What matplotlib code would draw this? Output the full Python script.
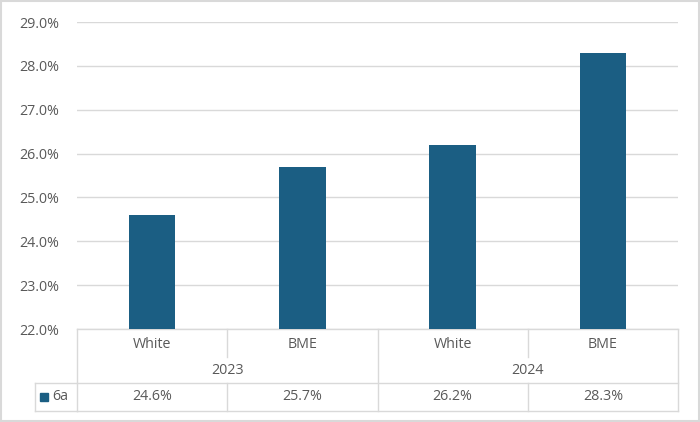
import matplotlib.pyplot as plt
from matplotlib.patches import Rectangle
from matplotlib.transforms import blended_transform_factory
from matplotlib.ticker import FuncFormatter

plt.rcParams['font.family'] = ['Open Sans', 'DejaVu Sans']

categories = ["White", "BME", "White", "BME"]
groups = ["2023", "2024"]
series_name = "6a"
values = [24.6, 25.7, 26.2, 28.3]

bar_color = "#1b5e83"
grid_color = "#d9d9d9"
text_color = "#595959"
fs = 10.3

W, H = 700, 422
fig = plt.figure(figsize=(W / 100, H / 100), dpi=100)

# overlay in pixel coords for the table and border
ov = fig.add_axes([0, 0, 1, 1])
ov.set_xlim(0, W)
ov.set_ylim(H, 0)
ov.axis("off")

# plot area: x 77..678, y 22..329 (pixels from top)
px_l, px_r, px_t, px_b = 77, 678, 22, 329
ax = fig.add_axes([px_l / W, 1 - px_b / H, (px_r - px_l) / W, (px_b - px_t) / H])
ax.set_zorder(2)
ax.patch.set_alpha(0)

x = list(range(len(values)))
ax.bar(x, values, width=0.31, color=bar_color, zorder=3)
ax.set_xlim(-0.5, len(values) - 0.5)
ax.set_ylim(22, 29)
ax.set_yticks([22 + i for i in range(8)])
ax.yaxis.set_major_formatter(FuncFormatter(lambda v, p: f"{v:.1f}%"))
ax.tick_params(axis="y", length=0, labelsize=fs, labelcolor=text_color, pad=13)
ax.tick_params(axis="x", length=0, labelbottom=False)
ax.grid(axis="y", color=grid_color, linewidth=1, zorder=0)
for s in ax.spines.values():
    s.set_visible(False)

# outer border
ov.add_patch(Rectangle((1, 1), W - 2, H - 2, fill=False, edgecolor=grid_color, linewidth=1.5))

# data table, x in data coordinates of the bar axes, y in pixels
tr = blended_transform_factory(ax.transData, ov.transData)
row_top, row_cat, row_grp, row_val = 329, 357, 383, 411
lw = 1
n = len(values)
lo, hi = -0.5, n - 0.5
lkw = dict(color=grid_color, linewidth=lw, transform=tr, clip_on=False)

# horizontal lines
ov.plot([lo, hi], [row_top, row_top], **lkw)
ov.plot([lo, hi], [row_grp, row_grp], **lkw)
ov.plot([lo, hi], [row_val, row_val], **lkw)
# vertical lines
for b in range(n + 1):
    xb = b - 0.5
    if b in (0, n) or b % 2 == 0:
        ov.plot([xb, xb], [row_top, row_val], **lkw)
    else:
        ov.plot([xb, xb], [row_top, row_cat], **lkw)
        ov.plot([xb, xb], [row_grp, row_val], **lkw)

# legend cell at the left
ov.plot([35, 77], [row_grp, row_grp], color=grid_color, linewidth=lw)
ov.plot([35, 77], [row_val, row_val], color=grid_color, linewidth=lw)
ov.plot([35, 35], [row_grp, row_val], color=grid_color, linewidth=lw)
ov.add_patch(Rectangle((40, 393), 8, 8, color=bar_color))
ov.text(52, (row_grp + row_val) / 2, series_name, ha="left", va="center",
        fontsize=fs, color=text_color)

for i, c in enumerate(categories):
    ov.text(i, (row_top + row_cat) / 2 + 1, c, ha="center", va="center",
            fontsize=fs, color=text_color, transform=tr)
    ov.text(i, (row_grp + row_val) / 2, f"{values[i]:.1f}%", ha="center", va="center",
            fontsize=fs, color=text_color, transform=tr)
for g, name in enumerate(groups):
    ov.text(2 * g + 0.5, (row_cat + row_grp) / 2 + 1, name, ha="center", va="center",
            fontsize=fs, color=text_color, transform=tr)

fig.savefig("out.png", dpi=100)
